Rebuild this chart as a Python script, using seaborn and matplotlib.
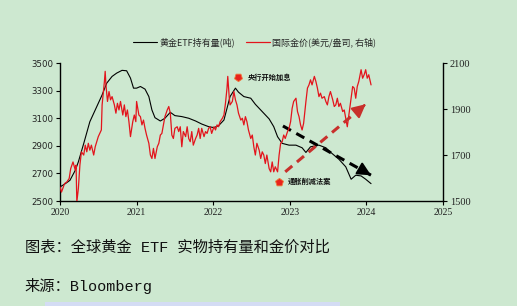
import numpy as np
import pandas as pd
import seaborn as sns
import matplotlib.pyplot as plt
from matplotlib.patches import Rectangle

# ETF holdings (tonnes, left axis)
etf_year = [2020.00, 2020.07, 2020.13, 2020.20, 2020.24, 2020.31, 2020.39, 2020.48, 2020.55,
            2020.61, 2020.68, 2020.74, 2020.81, 2020.87, 2020.92, 2020.96, 2021.00, 2021.05,
            2021.11, 2021.16, 2021.20, 2021.24, 2021.31, 2021.37, 2021.44, 2021.50, 2021.59,
            2021.68, 2021.77, 2021.85, 2021.94, 2022.01, 2022.07, 2022.14, 2022.18, 2022.22,
            2022.29, 2022.33, 2022.40, 2022.49, 2022.55, 2022.64, 2022.73, 2022.79, 2022.84,
            2022.90, 2022.99, 2023.08, 2023.16, 2023.21, 2023.27, 2023.38, 2023.47, 2023.55,
            2023.64, 2023.73, 2023.80, 2023.86, 2023.93, 2023.99, 2024.06]
etf_tons = [2602, 2626, 2650, 2723, 2784, 2917, 3075, 3184, 3269,
            3354, 3403, 3427, 3447, 3444, 3391, 3318, 3318, 3330,
            3311, 3257, 3160, 3104, 3080, 3100, 3143, 3119, 3112,
            3100, 3080, 3058, 3039, 3032, 3046, 3087, 3172, 3257,
            3318, 3289, 3257, 3245, 3201, 3148, 3095, 3039, 2966,
            2918, 2905, 2905, 2886, 2852, 2893, 2905, 2886, 2845,
            2803, 2748, 2658, 2687, 2682, 2658, 2626]

# gold price (USD/oz, right axis)
gold_year = [2020.00, 2020.02, 2020.06, 2020.09, 2020.12, 2020.14, 2020.17, 2020.20, 2020.21, 2020.22,
             2020.24, 2020.26, 2020.28, 2020.31, 2020.33, 2020.35, 2020.37, 2020.39, 2020.41, 2020.44,
             2020.46, 2020.48, 2020.50, 2020.54, 2020.55, 2020.58, 2020.59, 2020.60, 2020.62, 2020.64,
             2020.66, 2020.68, 2020.71, 2020.73, 2020.75, 2020.77, 2020.79, 2020.82, 2020.84, 2020.86,
             2020.88, 2020.90, 2020.92, 2020.95, 2020.97, 2020.99, 2021.00, 2021.03, 2021.05, 2021.07,
             2021.09, 2021.11, 2021.13, 2021.16, 2021.18, 2021.20, 2021.22, 2021.24, 2021.27, 2021.29,
             2021.31, 2021.33, 2021.35, 2021.37, 2021.40, 2021.42, 2021.44, 2021.46, 2021.48, 2021.50,
             2021.53, 2021.55, 2021.57, 2021.59, 2021.61, 2021.64, 2021.66, 2021.68, 2021.70, 2021.72,
             2021.74, 2021.77, 2021.79, 2021.81, 2021.83, 2021.85, 2021.88, 2021.90, 2021.92, 2021.94,
             2021.96, 2021.98, 2022.01, 2022.03, 2022.05, 2022.07, 2022.09, 2022.12, 2022.14, 2022.16,
             2022.18, 2022.19, 2022.21, 2022.22, 2022.25, 2022.27, 2022.29, 2022.31, 2022.33, 2022.36,
             2022.38, 2022.40, 2022.42, 2022.44, 2022.46, 2022.49, 2022.51, 2022.53, 2022.55, 2022.57,
             2022.60, 2022.62, 2022.64, 2022.66, 2022.68, 2022.70, 2022.73, 2022.75, 2022.77, 2022.79,
             2022.81, 2022.84, 2022.86, 2022.88, 2022.90, 2022.92, 2022.94, 2022.97, 2022.99, 2023.01,
             2023.03, 2023.05, 2023.08, 2023.10, 2023.12, 2023.14, 2023.16, 2023.18, 2023.21, 2023.23,
             2023.25, 2023.27, 2023.29, 2023.32, 2023.34, 2023.36, 2023.38, 2023.40, 2023.42, 2023.45,
             2023.47, 2023.49, 2023.51, 2023.53, 2023.56, 2023.58, 2023.60, 2023.62, 2023.64, 2023.66,
             2023.69, 2023.71, 2023.73, 2023.75, 2023.77, 2023.80, 2023.82, 2023.84, 2023.86, 2023.88,
             2023.90, 2023.93, 2023.95, 2023.97, 2023.99, 2024.01, 2024.03, 2024.06]
gold_usd = [1561, 1539, 1576, 1583, 1598, 1641, 1670, 1634, 1656, 1496,
            1554, 1656, 1714, 1700, 1743, 1714, 1751, 1721, 1743, 1700,
            1736, 1758, 1780, 1809, 1918, 2020, 2064, 2005, 1933, 1976,
            1940, 1954, 1918, 1882, 1925, 1896, 1933, 1874, 1918, 1867,
            1896, 1845, 1780, 1845, 1874, 1845, 1933, 1874, 1867, 1831,
            1852, 1816, 1787, 1751, 1700, 1685, 1729, 1685, 1736, 1751,
            1787, 1794, 1831, 1867, 1896, 1911, 1882, 1787, 1772, 1816,
            1823, 1802, 1823, 1736, 1802, 1780, 1823, 1772, 1758, 1802,
            1743, 1772, 1787, 1816, 1772, 1816, 1780, 1802, 1794, 1816,
            1823, 1794, 1823, 1809, 1831, 1823, 1845, 1860, 1874, 1925,
            1991, 2042, 1947, 1918, 1933, 1976, 1940, 1918, 1882, 1852,
            1860, 1831, 1867, 1845, 1809, 1772, 1787, 1736, 1700, 1751,
            1721, 1685, 1714, 1700, 1663, 1700, 1641, 1627, 1670, 1627,
            1649, 1627, 1700, 1751, 1758, 1787, 1772, 1802, 1816, 1845,
            1903, 1933, 1947, 1889, 1867, 1831, 1809, 1838, 1933, 1991,
            2005, 2027, 2005, 2042, 2020, 1991, 1954, 1969, 1947, 1954,
            1933, 1918, 1954, 1976, 1940, 1911, 1918, 1947, 1911, 1925,
            1889, 1896, 1860, 1823, 1874, 1947, 1998, 1991, 1947, 1998,
            2020, 2071, 2034, 2049, 2071, 2034, 2049, 2005]

x_ticks = [2020, 2021, 2022, 2023, 2024, 2025]
left_ticks = [2500, 2700, 2900, 3100, 3300, 3500]
right_ticks = [1500, 1700, 1900, 2100]

# trend arrows: (start, end) in data units
gold_arrow_x = [2022.94, 2023.99]
gold_arrow_y = [1627, 1921]
etf_arrow_x = [2022.91, 2024.06]
etf_arrow_y = [3044, 2687]

notes = ["央行开始加息", "通胀削减法案"]
note_x = [2022.33, 2022.86]
note_y = [3400, 2640]

bg = "#cde8d0"
red = "#e3141c"

sns.set_theme(style="ticks")
plt.rcParams["font.family"] = ["Noto Sans CJK SC", "DejaVu Sans"]

fig = plt.figure(figsize=(5.17, 3.06), dpi=100, facecolor=bg)
ax = fig.add_axes([0.116, 0.343, 0.741, 0.451])
ax.set_facecolor(bg)
ax2 = ax.twinx()

sns.lineplot(x=etf_year, y=etf_tons, ax=ax, color="black", linewidth=0.8)
sns.lineplot(x=gold_year, y=gold_usd, ax=ax2, color=red, linewidth=0.9)

ax.set_xlim(2020, 2025)
ax.set_ylim(2500, 3500)
ax2.set_ylim(1500, 2100)
ax.set_xticks(x_ticks)
ax.set_xticklabels([str(t) for t in x_ticks], family="Liberation Serif", fontsize=7)
ax.set_yticks(left_ticks)
ax.set_yticklabels([str(t) for t in left_ticks], family="DejaVu Sans", fontsize=6.2)
ax2.set_yticks(right_ticks)
ax2.set_yticklabels([str(t) for t in right_ticks], family="Liberation Serif", fontsize=7.5)

for a in (ax, ax2):
    a.spines["top"].set_visible(False)
    for s in a.spines.values():
        s.set_linewidth(1.0)
        s.set_color("black")
    a.tick_params(length=3, width=0.8, color="black", pad=2, labelcolor="#222222")
ax.spines["right"].set_visible(False)
ax2.spines["left"].set_visible(False)
ax2.spines["bottom"].set_visible(False)

# dashed trend arrows
ax2.plot(gold_arrow_x, gold_arrow_y, color="#c8302c", lw=2.2, ls=(0, (3, 2)), solid_capstyle="butt")
ax2.annotate("", xy=(gold_arrow_x[1], gold_arrow_y[1]),
             xytext=(gold_arrow_x[1] - 0.05, gold_arrow_y[1] - 14),
             arrowprops=dict(arrowstyle="-|>", color="#c8302c", lw=1.5, mutation_scale=20))
ax.plot(etf_arrow_x, etf_arrow_y, color="black", lw=2.2, ls=(0, (3, 2)), solid_capstyle="butt")
ax.annotate("", xy=(etf_arrow_x[1], etf_arrow_y[1]),
            xytext=(etf_arrow_x[1] - 0.05, etf_arrow_y[1] + 16),
            arrowprops=dict(arrowstyle="-|>", color="black", lw=1.5, mutation_scale=20))

# event markers
ax.plot(note_x[0], note_y[0], marker=(5, 0, 180), ms=6, color="#e8231d", mec="#f07a3a", mew=0.6, ls="none")
ax.plot(note_x[1], note_y[1], marker=(5, 0, 0), ms=6, color="#e8231d", mec="#f07a3a", mew=0.6, ls="none")
for t, xv, yv in zip(notes, note_x, note_y):
    ax.text(xv + 0.12, yv, t, fontsize=5.2, fontweight="bold", va="center", ha="left", color="#111111")

handles = [ax.get_lines()[0], ax2.get_lines()[0]]
fig.legend(handles, ["黄金ETF持有量(吨)", "国际金价(美元/盎司, 右轴)"], loc="center",
           bbox_to_anchor=(0.493, 0.863), ncol=2, frameon=False, fontsize=6.5,
           handlelength=2.6, columnspacing=1.2, handletextpad=0.3)

cap_font = ["Liberation Mono", "Noto Sans CJK SC"]
fig.text(0.048, 0.190, "图表：全球黄金 ETF 实物持有量和金价对比", fontsize=11,
         family=cap_font, va="center", ha="left", color="#111111")
fig.text(0.048, 0.065, "来源：Bloomberg", fontsize=11,
         family=cap_font, va="center", ha="left", color="#111111")
fig.patches.append(Rectangle((0.087, 0.0), 0.571, 0.013, transform=fig.transFigure,
                             facecolor="#d4dcf4", edgecolor="none"))

fig.savefig("out.png", dpi=100, facecolor=bg)
